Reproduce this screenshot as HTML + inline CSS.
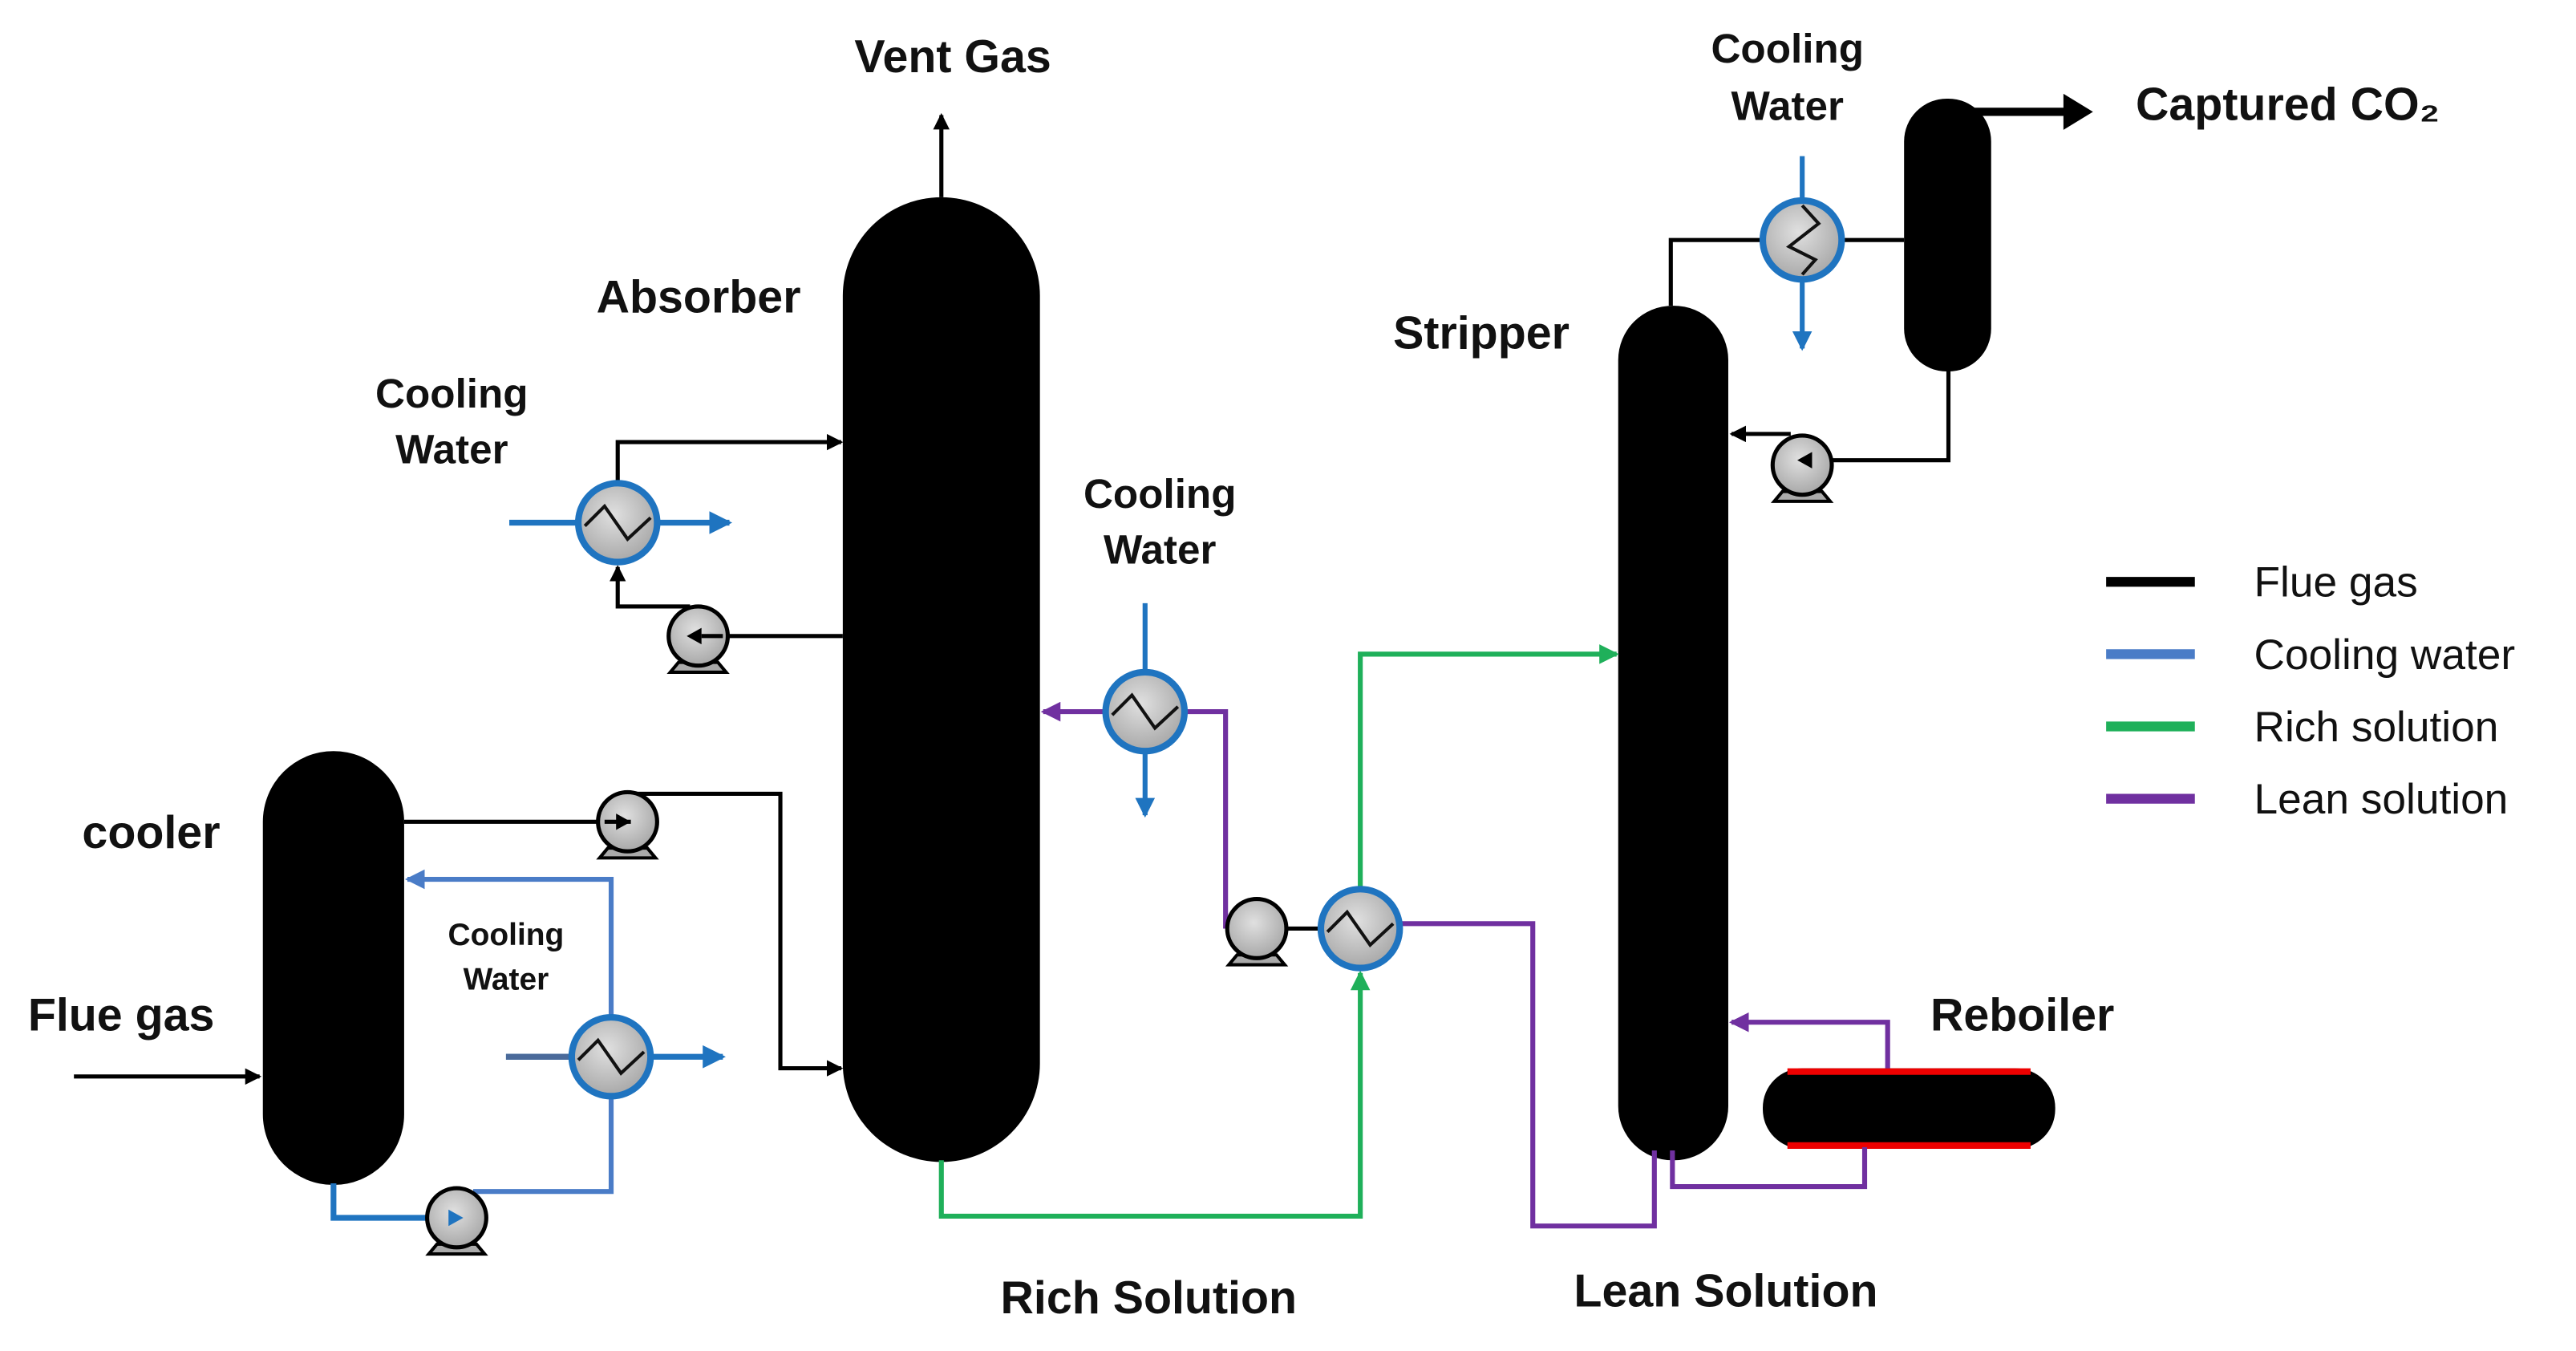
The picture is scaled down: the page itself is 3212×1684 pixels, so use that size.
<!DOCTYPE html>
<html><head><meta charset="utf-8"><style>
html,body{margin:0;padding:0;background:#fff;}
svg{display:block;}
text{font-family:"Liberation Sans","DejaVu Sans",sans-serif;}
.b{font-weight:bold;font-size:28px;fill:#111;}
.l{font-size:26px;fill:#111;}
</style></head><body>
<svg width="3212" height="1684" viewBox="0 0 1568 822" xmlns="http://www.w3.org/2000/svg">
<defs>
<marker id="ak" markerWidth="4" markerHeight="4" refX="3.5" refY="2" orient="auto" markerUnits="strokeWidth"><path d="M0,0 L4,2 L0,4 Z" fill="#000"/></marker>
<marker id="ab" markerWidth="4" markerHeight="4" refX="3.5" refY="2" orient="auto" markerUnits="strokeWidth"><path d="M0,0 L4,2 L0,4 Z" fill="#1f74c0"/></marker>
<marker id="ab2" markerWidth="4" markerHeight="4" refX="3.5" refY="2" orient="auto" markerUnits="strokeWidth"><path d="M0,0 L4,2 L0,4 Z" fill="#4a7cc7"/></marker>
<marker id="ag" markerWidth="4" markerHeight="4" refX="3.5" refY="2" orient="auto" markerUnits="strokeWidth"><path d="M0,0 L4,2 L0,4 Z" fill="#1fb05a"/></marker>
<marker id="ap" markerWidth="4" markerHeight="4" refX="3.5" refY="2" orient="auto" markerUnits="strokeWidth"><path d="M0,0 L4,2 L0,4 Z" fill="#7030a0"/></marker>
<radialGradient id="gr" cx="45%" cy="40%" r="60%"><stop offset="0" stop-color="#e0e0e0"/><stop offset="1" stop-color="#a8a8a8"/></radialGradient>
<g id="pump">
<path d="M-12,16 L12,16 L17,22 L-17,22 Z" fill="#aaa" stroke="#000" stroke-width="2"/>
<circle r="18" fill="url(#gr)" stroke="#000" stroke-width="2.5"/>
</g>
<g id="hx">
<circle r="24" fill="url(#gr)" stroke="#1f74c0" stroke-width="4"/>
<path d="M-20,2 L-8,-10 L6,10 L20,-3" fill="none" stroke="#111" stroke-width="2"/>
</g>
<g id="hxv">
<circle r="24" fill="url(#gr)" stroke="#1f74c0" stroke-width="4"/>
<path d="M0,-21 L10,-10 L-8,4 L8,12 L0,21" fill="none" stroke="#111" stroke-width="2"/>
</g>
</defs>

<rect x="513" y="120" width="120" height="587" rx="60" ry="60" fill="#000"/>
<rect x="160" y="457" width="86" height="264" rx="43" ry="43" fill="#000"/>
<rect x="985" y="186" width="67" height="520" rx="33" ry="33" fill="#000"/>
<rect x="1159" y="60" width="53" height="166" rx="26" ry="26" fill="#000"/>
<rect x="1073" y="650" width="178" height="49" rx="24" ry="24" fill="#000"/>
<path d="M1088,652 L1236,652" stroke="#e00" stroke-width="4"/>
<path d="M1088,697 L1236,697" stroke="#e00" stroke-width="4"/>

<path d="M573,120 L573,70" stroke="#000" stroke-width="2.5" marker-end="url(#ak)"/>

<path d="M376,294 L376,269 L512,269" fill="none" stroke="#000" stroke-width="2.5" marker-end="url(#ak)"/>
<path d="M513,387 L430,387" fill="none" stroke="#000" stroke-width="2.5"/>
<path d="M420,369 L376,369 L376,345" fill="none" stroke="#000" stroke-width="2.5" marker-end="url(#ak)"/>
<path d="M310,318 L444,318" fill="none" stroke="#1f74c0" stroke-width="3.5" marker-end="url(#ab)"/>
<use href="#hx" x="376" y="318"/>
<use href="#pump" x="425" y="387"/>
<path d="M418,387 l9,-5 l0,10 z" fill="#000"/>
<path d="M427,387 L440,387" stroke="#000" stroke-width="2.5"/>

<path d="M45,655 L158,655" stroke="#000" stroke-width="2.5" marker-end="url(#ak)"/>
<path d="M246,500 L376,500" stroke="#000" stroke-width="2.5"/>
<path d="M386,500 l-9,-5 l0,10 z" fill="#000"/>
<path d="M384,483 L475,483 L475,650 L512,650" fill="none" stroke="#000" stroke-width="2.5" marker-end="url(#ak)"/>
<path d="M203,720 L203,741 L276,741" fill="none" stroke="#1f74c0" stroke-width="3.5" marker-end="url(#ab)"/>
<path d="M288,725 L372,725 L372,535 L248,535" fill="none" stroke="#4a7cc7" stroke-width="3" marker-end="url(#ab2)"/>
<path d="M308,643 L440,643" fill="none" stroke="#1f74c0" stroke-width="3.5" marker-end="url(#ab)"/>
<path d="M308,643 L350,643" stroke="#4a6a9a" stroke-width="3.5"/>
<use href="#hx" x="372" y="643"/>
<use href="#pump" x="382" y="500"/>
<path d="M384,500 l-9,-5 l0,10 z" fill="#000"/>
<path d="M368,500 L384,500" stroke="#000" stroke-width="2.5"/>
<use href="#pump" x="278" y="741"/>
<path d="M282,741 l-9,-5 l0,10 z" fill="#1f74c0"/>

<path d="M697,367 L697,496" stroke="#1f74c0" stroke-width="3" marker-end="url(#ab)"/>
<path d="M673,433 L635,433" stroke="#7030a0" stroke-width="3" marker-end="url(#ap)"/>
<path d="M721,433 L746,433 L746,565" fill="none" stroke="#7030a0" stroke-width="3"/>
<use href="#hx" x="697" y="433"/>

<path d="M573,706 L573,740 L828,740 L828,592" fill="none" stroke="#1fb05a" stroke-width="3" marker-end="url(#ag)"/>
<path d="M828,541 L828,398 L984,398" fill="none" stroke="#1fb05a" stroke-width="3" marker-end="url(#ag)"/>
<path d="M852,562 L933,562 L933,746 L1007,746 L1007,700" fill="none" stroke="#7030a0" stroke-width="3"/>
<path d="M783,565 L804,565" stroke="#000" stroke-width="2.5"/>
<use href="#pump" x="765" y="565"/>
<use href="#hx" x="828" y="565"/>

<path d="M1149,650 L1149,622 L1054,622" fill="none" stroke="#7030a0" stroke-width="3" marker-end="url(#ap)"/>
<path d="M1018,700 L1018,722 L1135,722 L1135,698" fill="none" stroke="#7030a0" stroke-width="3"/>

<path d="M1017,186 L1017,146 L1159,146" fill="none" stroke="#000" stroke-width="2.5"/>
<path d="M1097,95 L1097,212" stroke="#1f74c0" stroke-width="3" marker-end="url(#ab)"/>
<use href="#hxv" x="1097" y="146"/>
<path d="M1186,225 L1186,280 L1100,280" fill="none" stroke="#000" stroke-width="2.5"/>
<path d="M1090,264 L1054,264" fill="none" stroke="#000" stroke-width="2.5" marker-end="url(#ak)"/>
<use href="#pump" x="1097" y="283"/>
<path d="M1094,280 l9,-5 l0,10 z" fill="#000"/>
<path d="M1200,68 L1258,68" stroke="#000" stroke-width="5"/>
<path d="M1256,57 L1274,68 L1256,79 Z" fill="#000"/>

<path d="M1282,354 L1336,354" stroke="#000" stroke-width="6"/>
<path d="M1282,398 L1336,398" stroke="#4a7cc7" stroke-width="6"/>
<path d="M1282,442 L1336,442" stroke="#1fb05a" stroke-width="6"/>
<path d="M1282,486 L1336,486" stroke="#7030a0" stroke-width="6"/>
<text class="l" x="1372" y="363">Flue gas</text>
<text class="l" x="1372" y="407">Cooling water</text>
<text class="l" x="1372" y="451">Rich solution</text>
<text class="l" x="1372" y="495">Lean solution</text>

<text class="b" x="580" y="44" text-anchor="middle">Vent Gas</text>
<text class="b" x="363" y="190">Absorber</text>
<text class="b" x="275" y="248" text-anchor="middle" style="font-size:25px">Cooling</text>
<text class="b" x="275" y="282" text-anchor="middle" style="font-size:25px">Water</text>
<text class="b" x="706" y="309" text-anchor="middle" style="font-size:25px">Cooling</text>
<text class="b" x="706" y="343" text-anchor="middle" style="font-size:25px">Water</text>
<text class="b" x="308" y="575" text-anchor="middle" style="font-size:19px">Cooling</text>
<text class="b" x="308" y="602" text-anchor="middle" style="font-size:19px">Water</text>
<text class="b" x="50" y="516">cooler</text>
<text class="b" x="17" y="627">Flue gas</text>
<text class="b" x="1088" y="38" text-anchor="middle" style="font-size:25px">Cooling</text>
<text class="b" x="1088" y="73" text-anchor="middle" style="font-size:25px">Water</text>
<text class="b" x="1300" y="73">Captured CO₂</text>
<text class="b" x="848" y="212">Stripper</text>
<text class="b" x="1175" y="627">Reboiler</text>
<text class="b" x="609" y="799">Rich Solution</text>
<text class="b" x="958" y="795">Lean Solution</text>
</svg>
</body></html>
